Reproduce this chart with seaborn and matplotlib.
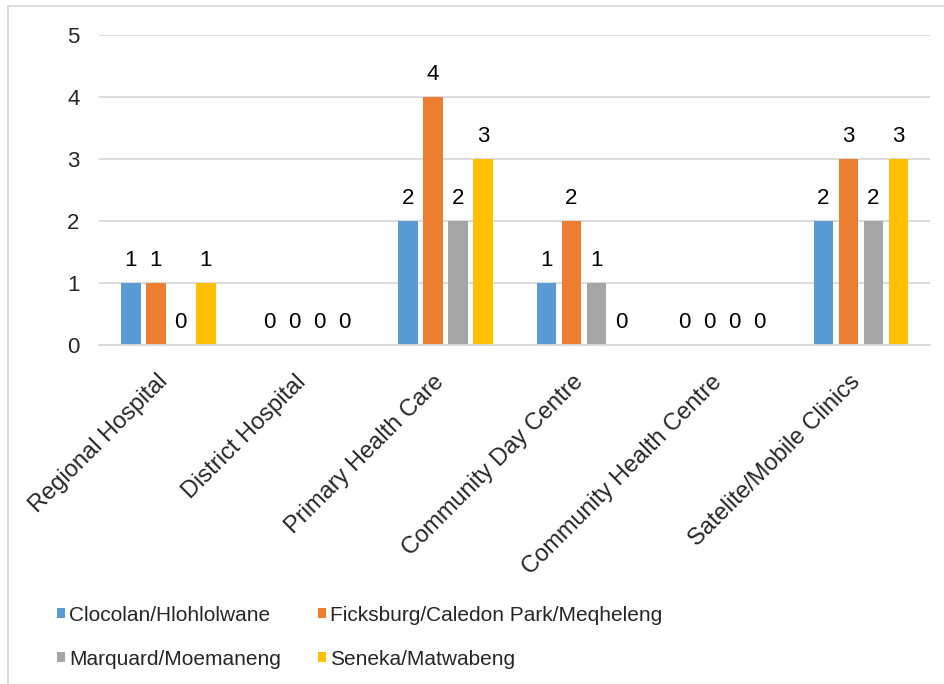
import matplotlib
matplotlib.use("Agg")
import matplotlib.pyplot as plt
import matplotlib.transforms as mtransforms
from matplotlib.patches import Patch, Rectangle
import seaborn as sns
import pandas as pd

categories = [
    "Regional Hospital",
    "District Hospital",
    "Primary Health Care",
    "Community Day Centre",
    "Community Health Centre",
    "Satelite/Mobile Clinics",
]
series_names = [
    "Clocolan/Hlohlolwane",
    "Ficksburg/Caledon Park/Meqheleng",
    "Marquard/Moemaneng",
    "Seneka/Matwabeng",
]
clocolan = [1, 0, 2, 1, 0, 2]
ficksburg = [1, 0, 4, 2, 0, 3]
marquard = [0, 0, 2, 1, 0, 2]
seneka = [1, 0, 3, 0, 0, 3]
y_ticks = [0, 1, 2, 3, 4, 5]

colors = ["#5B9BD5", "#ED7D31", "#A5A5A5", "#FFC000"]

rows = []
for name, vals in zip(series_names, [clocolan, ficksburg, marquard, seneka]):
    for cat, v in zip(categories, vals):
        rows.append({"Facility": cat, "Area": name, "Count": v})
df = pd.DataFrame(rows)

sns.set_theme(style="white")
plt.rcParams["font.family"] = ["Liberation Sans", "DejaVu Sans"]

fig = plt.figure(figsize=(9.45, 6.84), dpi=100)
ax = fig.add_axes([0.1048, 0.4956, 0.8794, 0.4532])

sns.barplot(
    data=df, x="Facility", y="Count", hue="Area",
    order=categories, hue_order=series_names, palette=colors,
    width=0.722, gap=0.22, saturation=1, errorbar=None,
    linewidth=0, edgecolor="none",
    legend=False, ax=ax,
)

for cont in ax.containers:
    ax.bar_label(cont, fmt="%g", padding=9, fontsize=16, color="black")

ax.set_ylim(0, 5)
ax.set_xlim(-0.5, len(categories) - 0.5)
ax.set_yticks(y_ticks)
ax.set_yticklabels([str(t) for t in y_ticks], fontsize=16)
ax.yaxis.grid(True, color="#D9D9D9", linewidth=1.3)
ax.set_axisbelow(True)
ax.set_xlabel("")
ax.set_ylabel("")
for s in ["top", "right", "left"]:
    ax.spines[s].set_visible(False)
ax.spines["bottom"].set_color("#D9D9D9")
ax.spines["bottom"].set_linewidth(1.3)
ax.tick_params(axis="y", length=0, pad=14)
ax.tick_params(axis="x", length=0, pad=17)

# rotated category labels, nudged so the end of each label sits under its group
shift = mtransforms.ScaledTranslation(-0.12, -0.02, fig.dpi_scale_trans)
for lbl in ax.get_xticklabels():
    lbl.set_rotation(45)
    lbl.set_ha("right")
    lbl.set_va("top")
    lbl.set_rotation_mode("anchor")
    lbl.set_fontsize(17)
    lbl.set_transform(lbl.get_transform() + shift)

# legend filled row by row
order = [0, 2, 1, 3]
handles = [Patch(facecolor=colors[i], edgecolor="none") for i in order]
labels = [series_names[i] for i in order]
fig.legend(
    handles, labels, loc="upper left", bbox_to_anchor=(0.041, 0.142),
    ncol=2, frameon=False,
    prop={"family": ["Liberation Sans"], "size": 15},
    handlelength=0.35, handleheight=0.35, handletextpad=0.2,
    labelspacing=1.2, columnspacing=1.8,
)

# chart frame
fig.patches.append(Rectangle((8 / 945, -0.01), 1.0, 1 - 6 / 684 + 0.01,
                             transform=fig.transFigure, fill=False,
                             edgecolor="#D9D9D9", linewidth=1.3))

fig.savefig("out.png", dpi=100, facecolor="white")
